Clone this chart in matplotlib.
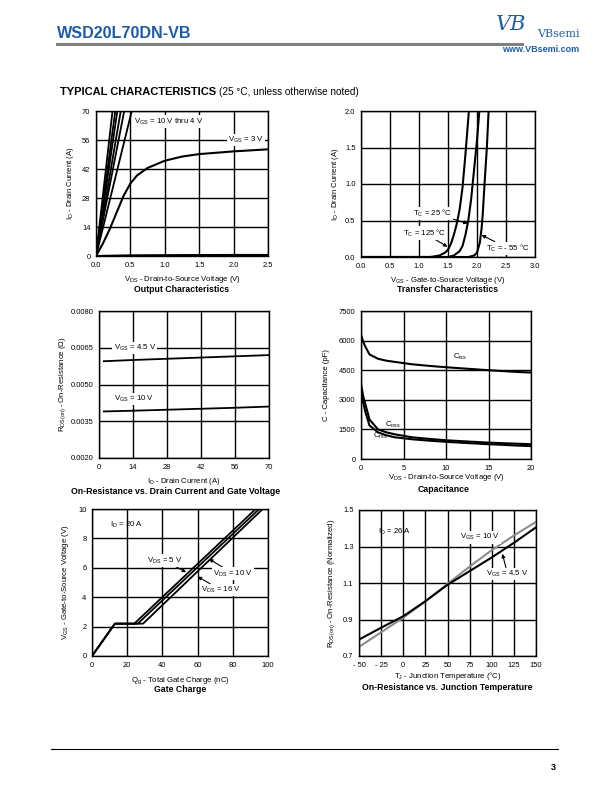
import matplotlib
matplotlib.use("Agg")
import matplotlib.pyplot as plt
from matplotlib.lines import Line2D

plt.rcParams['font.family'] = ['Liberation Sans', 'DejaVu Sans']
plt.rcParams['mathtext.fontset'] = 'custom'
plt.rcParams['mathtext.rm'] = 'Liberation Sans'
plt.rcParams['mathtext.it'] = 'Liberation Sans:italic'
plt.rcParams['mathtext.bf'] = 'Liberation Sans:bold'
plt.rcParams['mathtext.default'] = 'regular'

# --------------------------------------------------
# Data
# --------------------------------------------------

# Output characteristics
out_lin_id = [0, 70]
out_lin_vds_top = [0.24, 0.28, 0.31, 0.36, 0.41, 0.52]  # VGS = 10 V thru 4 V
out_3v_vds = [0, 0.1, 0.2, 0.3, 0.4, 0.5, 0.6, 0.75, 1.0, 1.25, 1.5, 2.0, 2.5]
out_3v_id = [0, 6, 13, 21, 29, 35, 39, 42.5, 46, 48, 49.2, 50.5, 51.5]
out_2v_vds = [0, 0.5, 1.0, 1.5, 2.0, 2.5]
out_2v_id = [0, 0.3, 0.4, 0.45, 0.5, 0.5]

# Transfer characteristics
tr_125_vgs = [0, 1.2, 1.35, 1.45, 1.5, 1.55, 1.6, 1.65, 1.7, 1.75, 1.8, 1.86]
tr_125_id = [0, 0, 0.02, 0.06, 0.1, 0.18, 0.3, 0.45, 0.65, 0.95, 1.4, 2.0]
tr_25_vgs = [0, 1.5, 1.6, 1.7, 1.75, 1.8, 1.85, 1.9, 1.95, 2.0, 2.04]
tr_25_id = [0, 0, 0.02, 0.08, 0.15, 0.3, 0.5, 0.8, 1.2, 1.6, 2.0]
tr_m55_vgs = [0, 1.85, 1.95, 2.0, 2.05, 2.08, 2.1, 2.13, 2.17, 2.2]
tr_m55_id = [0, 0, 0.02, 0.06, 0.2, 0.4, 0.6, 1.0, 1.5, 2.0]

# On-resistance vs drain current
rds_id = [2, 14, 28, 42, 56, 70]
rds_45v = [0.00595, 0.00600, 0.00605, 0.00610, 0.00615, 0.00620]
rds_10v = [0.00390, 0.00393, 0.00397, 0.00401, 0.00405, 0.00410]

# Capacitance
cap_vds = [0, 0.25, 0.5, 1, 2, 3, 4, 6, 8, 10, 12, 15, 18, 20]
cap_ciss = [6300, 5950, 5700, 5300, 5080, 4980, 4920, 4800, 4720, 4650, 4590, 4500, 4420, 4380]
cap_coss = [3800, 3200, 2800, 2000, 1500, 1350, 1250, 1100, 1020, 950, 900, 830, 780, 750]
cap_crss = [3500, 2900, 2400, 1700, 1350, 1200, 1100, 1000, 930, 870, 820, 750, 690, 650]

# Gate charge
qg_5v = [0, 13, 24, 93]
qg_10v = [0, 13, 26, 95]
qg_16v = [0, 13, 29, 97]
vgs_gc = [0, 2.2, 2.2, 10]

# On-resistance vs junction temperature
tj = [-50, -25, 0, 25, 50, 75, 100, 125, 150]
rn_45v = [0.79, 0.855, 0.918, 1.0, 1.09, 1.165, 1.24, 1.32, 1.405]
rn_10v = [0.75, 0.83, 0.91, 1.0, 1.095, 1.19, 1.28, 1.36, 1.435]

# --------------------------------------------------
# Page setup
# --------------------------------------------------

W, H = 612, 792
fig = plt.figure(figsize=(W / 100, H / 100), dpi=100)
BLUE = '#1f5ca8'
TICK_FS = 5.4
LAB_FS = 5.6
TITLE_FS = 6.3
ANN_FS = 5.6


def px_axes(x0, y0, x1, y1):
    ax = fig.add_axes([x0 / W, 1 - y1 / H, (x1 - x0) / W, (y1 - y0) / H])
    ax.grid(True, color='black', lw=1.0)
    ax.set_axisbelow(True)
    for s in ax.spines.values():
        s.set_linewidth(1.0)
    ax.tick_params(length=0, labelsize=TICK_FS, pad=4)
    return ax


def ftext(x, y, s, **kw):
    fig.text(x / W, 1 - y / H, s, **kw)


box = dict(facecolor='white', edgecolor='none', pad=0.8)
arrow = dict(arrowstyle='-|>', color='black', lw=0.8, mutation_scale=5,
             shrinkA=0, shrinkB=0)

# header
ftext(57, 33, 'WSD20L70DN-VB', fontsize=11.6, fontweight='bold', color=BLUE,
      va='center')
fig.add_artist(Line2D([57 / W, 522 / W], [1 - 44 / H, 1 - 44 / H],
                      color='#808080', lw=2.2))
ftext(511, 24, 'VB', fontsize=15, color=BLUE, family='DejaVu Serif',
      style='italic', ha='center', va='center')
ftext(558, 34, 'VBsemi', fontsize=8, color=BLUE, family='DejaVu Serif',
      ha='center', va='center')
ftext(541, 49, 'www.VBsemi.com', fontsize=6.5, fontweight='bold', color=BLUE,
      ha='center', va='center')

ftext(60, 92, 'TYPICAL CHARACTERISTICS', fontsize=8.0, fontweight='bold',
      va='center')
ftext(219, 92, '(25 \u00b0C, unless otherwise noted)', fontsize=7.2, va='center')

# footer
fig.add_artist(Line2D([51 / W, 558 / W], [1 - 749 / H, 1 - 749 / H],
                      color='black', lw=0.8))
ftext(553, 768, '3', fontsize=6.5, fontweight='bold', ha='center', va='center')

# --------------------------------------------------
# 1. Output characteristics
# --------------------------------------------------

ax = px_axes(96, 111, 268, 256)
for xt in out_lin_vds_top:
    ax.plot([0, xt], out_lin_id, color='black', lw=1.3)
ax.plot(out_3v_vds, out_3v_id, color='black', lw=1.5)
ax.plot(out_2v_vds, out_2v_id, color='black', lw=1.5)
ax.set_xlim(0, 2.5)
ax.set_ylim(0, 70)
ax.set_xticks([0, 0.5, 1.0, 1.5, 2.0, 2.5])
ax.set_xticklabels(['0.0', '0.5', '1.0', '1.5', '2.0', '2.5'])
ax.set_yticks([0, 14, 28, 42, 56, 70])
ax.text(0.55, 64, r'$V_{GS}$ = 10 V thru 4 V', fontsize=ANN_FS, bbox=box)
ax.text(1.92, 56, r'$V_{GS}$ = 3 V', fontsize=ANN_FS, bbox=box, va='center')
ax.set_xlabel(r'$V_{DS}$ - Drain-to-Source Voltage (V)', fontsize=LAB_FS,
              labelpad=4)
ax.set_ylabel(r'$I_{D}$ - Drain Current (A)', fontsize=LAB_FS, labelpad=4)
ftext(182, 290, 'Output Characteristics', fontsize=TITLE_FS, fontweight='bold',
      ha='center', va='center')

# --------------------------------------------------
# 2. Transfer characteristics
# --------------------------------------------------

ax = px_axes(361, 111, 535, 257)
ax.plot(tr_125_vgs, tr_125_id, color='black', lw=1.5)
ax.plot(tr_25_vgs, tr_25_id, color='black', lw=1.5)
ax.plot(tr_m55_vgs, tr_m55_id, color='black', lw=1.5)
ax.set_xlim(0, 3.0)
ax.set_ylim(0, 2.0)
ax.set_xticks([0, 0.5, 1.0, 1.5, 2.0, 2.5, 3.0])
ax.set_xticklabels(['0.0', '0.5', '1.0', '1.5', '2.0', '2.5', '3.0'])
ax.set_yticks([0, 0.5, 1.0, 1.5, 2.0])
ax.set_yticklabels(['0.0', '0.5', '1.0', '1.5', '2.0'])
ax.annotate('$T_{C}$ = 25 \u00b0C',
            xy=(1.84, 0.46), xytext=(0.9, 0.6), fontsize=ANN_FS,
            va='center', arrowprops=arrow, bbox=box)
ax.annotate('$T_{C}$ = 125 \u00b0C',
            xy=(1.49, 0.14), xytext=(0.72, 0.33), fontsize=ANN_FS,
            va='center', arrowprops=arrow, bbox=box)
ax.annotate('$T_{C}$ = - 55 \u00b0C',
            xy=(2.08, 0.3), xytext=(2.16, 0.12), fontsize=ANN_FS,
            va='center', arrowprops=arrow, bbox=box)
ax.set_xlabel(r'$V_{GS}$ - Gate-to-Source Voltage (V)', fontsize=LAB_FS,
              labelpad=4)
ax.set_ylabel(r'$I_{D}$ - Drain Current (A)', fontsize=LAB_FS, labelpad=3)
ftext(448, 290, 'Transfer Characteristics', fontsize=TITLE_FS,
      fontweight='bold', ha='center', va='center')

# --------------------------------------------------
# 3. On-resistance vs drain current
# --------------------------------------------------

ax = px_axes(99, 311, 269, 458)
ax.plot(rds_id, rds_45v, color='black', lw=1.3)
ax.plot(rds_id, rds_10v, color='black', lw=1.3)
ax.set_xlim(0, 70)
ax.set_ylim(0.002, 0.008)
ax.set_xticks([0, 14, 28, 42, 56, 70])
ax.set_yticks([0.002, 0.0035, 0.005, 0.0065, 0.008])
ax.set_yticklabels(['0.0020', '0.0035', '0.0050', '0.0065', '0.0080'])
ax.text(6, 0.0065, r'$V_{GS}$ = 4.5 V', fontsize=ANN_FS, va='center', bbox=box)
ax.text(6, 0.0044, r'$V_{GS}$ = 10 V', fontsize=ANN_FS, va='center', bbox=box)
ax.set_xlabel(r'$I_{D}$ - Drain Current (A)', fontsize=LAB_FS, labelpad=4)
ax.set_ylabel(r'$R_{DS(on)}$ - On-Resistance ($\Omega$)', fontsize=LAB_FS,
              labelpad=2)
ftext(176, 492, 'On-Resistance vs. Drain Current and Gate Voltage',
      fontsize=TITLE_FS, fontweight='bold', ha='center', va='center')

# --------------------------------------------------
# 4. Capacitance
# --------------------------------------------------

ax = px_axes(361, 311, 531, 459)
ax.plot(cap_vds, cap_ciss, color='black', lw=1.5)
ax.plot(cap_vds, cap_coss, color='black', lw=1.5)
ax.plot(cap_vds, cap_crss, color='black', lw=1.5)
ax.set_xlim(0, 20)
ax.set_ylim(0, 7500)
ax.set_xticks([0, 5, 10, 15, 20])
ax.set_yticks([0, 1500, 3000, 4500, 6000, 7500])
ax.text(10.8, 5150, r'$C_{iss}$', fontsize=ANN_FS, va='center')
ax.text(2.8, 1750, r'$C_{oss}$', fontsize=ANN_FS, va='center')
ax.text(1.4, 1150, r'$C_{rss}$', fontsize=ANN_FS, va='center')
ax.set_xlabel(r'$V_{DS}$ - Drain-to-Source Voltage (V)', fontsize=LAB_FS,
              labelpad=0.5)
ax.set_ylabel('C - Capacitance (pF)', fontsize=LAB_FS, labelpad=6)
ftext(444, 489.5, 'Capacitance', fontsize=TITLE_FS, fontweight='bold',
      ha='center', va='center')

# --------------------------------------------------
# 5. Gate charge
# --------------------------------------------------

ax = px_axes(92, 509, 268, 656)
ax.plot(qg_5v, vgs_gc, color='black', lw=1.3)
ax.plot(qg_10v, vgs_gc, color='black', lw=1.3)
ax.plot(qg_16v, vgs_gc, color='black', lw=1.3)
ax.set_xlim(0, 100)
ax.set_ylim(0, 10)
ax.set_xticks([0, 20, 40, 60, 80, 100])
ax.set_yticks([0, 2, 4, 6, 8, 10])
ax.text(10, 8.9, r'$I_{D}$ = 20 A', fontsize=ANN_FS, va='center')
ax.annotate(r'$V_{DS}$ = 5 V', xy=(53.5, 5.7), xytext=(31, 6.5),
            fontsize=ANN_FS, va='center', arrowprops=arrow, bbox=box)
ax.annotate(r'$V_{DS}$ = 10 V', xy=(66.5, 6.6), xytext=(69, 5.6),
            fontsize=ANN_FS, va='center', arrowprops=arrow, bbox=box)
ax.annotate(r'$V_{DS}$ = 16 V', xy=(60, 5.4), xytext=(62, 4.5),
            fontsize=ANN_FS, va='center', arrowprops=arrow, bbox=box)
ax.set_xlabel(r'$Q_{g}$ - Total Gate Charge (nC)', fontsize=LAB_FS, labelpad=5)
ax.set_ylabel(r'$V_{GS}$ - Gate-to-Source Voltage (V)', fontsize=LAB_FS,
              labelpad=5)
ftext(180, 690, 'Gate Charge', fontsize=TITLE_FS, fontweight='bold',
      ha='center', va='center')

# --------------------------------------------------
# 6. On-resistance vs junction temperature
# --------------------------------------------------

ax = px_axes(359, 510, 536, 656)
ax.plot(tj, rn_10v, color='#8c8c8c', lw=1.5)
ax.plot(tj, rn_45v, color='black', lw=1.5)
ax.set_xlim(-50, 150)
ax.set_ylim(0.7, 1.5)
ax.set_xticks([-50, -25, 0, 25, 50, 75, 100, 125, 150])
ax.set_xticklabels(['- 50', '- 25', '0', '25', '50', '75', '100', '125', '150'])
ax.set_yticks([0.7, 0.9, 1.1, 1.3, 1.5])
ax.text(-28, 1.38, r'$I_{D}$ = 26 A', fontsize=ANN_FS, va='center')
ax.text(64, 1.35, r'$V_{GS}$ = 10 V', fontsize=ANN_FS, va='center', bbox=box)
ax.annotate(r'$V_{GS}$ = 4.5 V', xy=(112, 1.26), xytext=(94, 1.15),
            fontsize=ANN_FS, va='center', arrowprops=arrow, bbox=box)
ax.set_xlabel('$T_{J}$ - Junction Temperature (\u00b0C)', fontsize=LAB_FS,
              labelpad=1)
ax.set_ylabel(r'$R_{DS(on)}$ - On-Resistance (Normalized)', fontsize=LAB_FS,
              labelpad=4)
ftext(447, 687.5, 'On-Resistance vs. Junction Temperature', fontsize=TITLE_FS,
      fontweight='bold', ha='center', va='center')

fig.savefig('out.png', dpi=100)
